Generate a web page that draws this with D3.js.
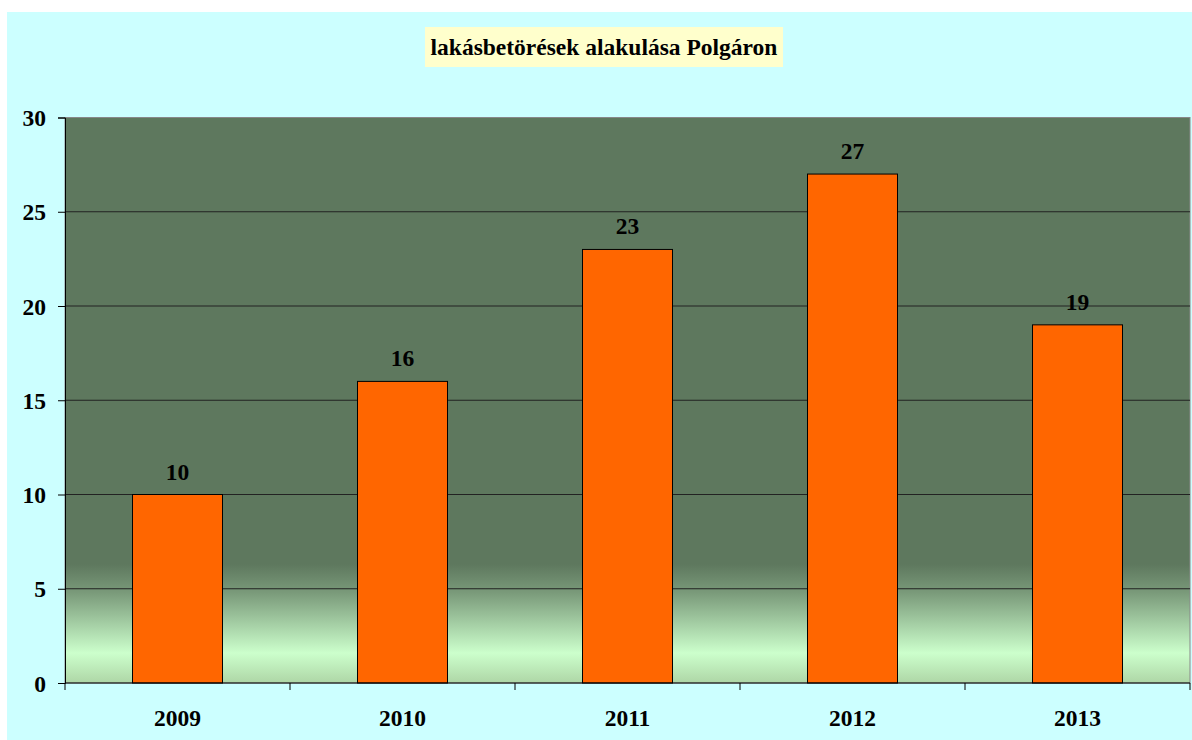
<!DOCTYPE html>
<html><head><meta charset="utf-8">
<script src="https://cdn.jsdelivr.net/npm/d3@7"></script>
<style>html,body{margin:0;padding:0;background:#fff;}svg{display:block;}
text{font-family:"Liberation Serif","Times New Roman",serif;font-weight:bold;fill:#000;}</style>
</head><body>
<svg id="c" width="1192" height="740"></svg>
<script>
const categories = ["2009","2010","2011","2012","2013"];
const values = [10,16,23,27,19];
const yTicks = [0,5,10,15,20,25,30];
const title = "lakásbetörések alakulása Polgáron";

const svg = d3.select("#c");
const W = 1192, H = 740;
const m = {left:65, right:1190, top:117.5, bottom:683};
const FS = 23.5;

svg.append("rect").attr("x",7).attr("y",12).attr("width",W-7).attr("height",H-12).attr("fill","#CCFFFF");

const defs = svg.append("defs");
const g = defs.append("linearGradient").attr("id","bg").attr("x1",0).attr("y1",0).attr("x2",0).attr("y2",1);
[[0,"#5E785E"],[0.79,"#5E785E"],[0.84,"#7A9A7A"],[0.947,"#CCFFCC"],[1,"#AED6A6"]].forEach(s=>
  g.append("stop").attr("offset",s[0]).attr("stop-color",s[1]));

const x = d3.scaleBand().domain(categories).range([m.left,m.right]).paddingInner(0.6).paddingOuter(0.3);
const y = d3.scaleLinear().domain([0,30]).range([m.bottom,m.top]);

svg.append("rect").attr("x",m.left).attr("y",m.top).attr("width",m.right-m.left).attr("height",m.bottom-m.top)
  .attr("fill","url(#bg)").attr("stroke","#888").attr("stroke-width",1);

// gridlines
svg.append("g").selectAll("line").data(yTicks.filter(d=>d>0 && d<30)).join("line")
  .attr("x1",m.left).attr("x2",m.right).attr("y1",d=>y(d)).attr("y2",d=>y(d))
  .attr("stroke","#222").attr("stroke-width",1);

// bars
svg.append("g").selectAll("rect").data(values).join("rect")
  .attr("x",(d,i)=>x(categories[i])).attr("width",x.bandwidth())
  .attr("y",d=>y(d)).attr("height",d=>y(0)-y(d))
  .attr("fill","#FF6600").attr("stroke","#000").attr("stroke-width",1);

// value labels
svg.append("g").selectAll("text").data(values).join("text")
  .attr("x",(d,i)=>x(categories[i])+x.bandwidth()/2).attr("y",d=>y(d)-15)
  .attr("text-anchor","middle").attr("font-size",FS).text(d=>d);

// axes
const yAxis = d3.axisLeft(y).tickValues(yTicks).tickSize(7).tickPadding(12);
const ya = svg.append("g").attr("transform",`translate(${m.left},0)`).call(yAxis);
ya.attr("font-family",null).attr("font-size",null);
ya.select(".domain").attr("stroke","#000");
ya.selectAll("text").attr("font-size",FS).attr("dy","0.35em");

const xb = d3.scaleLinear().domain([0,5]).range([m.left,m.right]);
const xa = svg.append("g").attr("transform",`translate(0,${m.bottom})`);
xa.append("line").attr("x1",m.left).attr("x2",m.right).attr("stroke","#000");
xa.selectAll("line.t").data(d3.range(6)).join("line").attr("class","t")
  .attr("x1",d=>xb(d)).attr("x2",d=>xb(d)).attr("y1",0).attr("y2",7).attr("stroke","#000");
xa.selectAll("text").data(categories).join("text")
  .attr("x",d=>x(d)+x.bandwidth()/2).attr("y",43)
  .attr("text-anchor","middle").attr("font-size",FS).text(d=>d);

// title
svg.append("rect").attr("x",425).attr("y",27).attr("width",358).attr("height",40).attr("fill","#FFFFCC");
svg.append("text").attr("x",604).attr("y",55).attr("text-anchor","middle")
  .attr("font-size",FS).text(title);
</script>
</body></html>
